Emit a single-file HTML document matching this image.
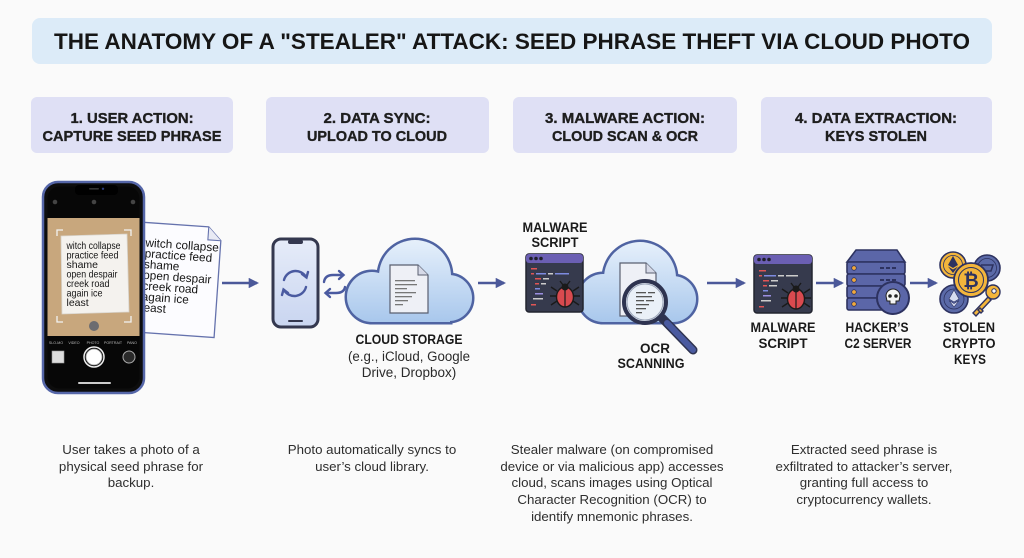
<!DOCTYPE html>
<html><head><meta charset="utf-8"><style>
html,body{margin:0;padding:0;background:#fafafa;}
svg{display:block;}
text{font-family:"Liberation Sans",Arial,sans-serif;}
</style></head><body>
<svg width="1024" height="558" viewBox="0 0 1024 558" xmlns="http://www.w3.org/2000/svg">
<defs>
<linearGradient id="cg1" x1="0" y1="240" x2="0" y2="323" gradientUnits="userSpaceOnUse">
<stop offset="0" stop-color="#e6f0fb"/><stop offset="1" stop-color="#a8c7ec"/></linearGradient>
<linearGradient id="cg2" x1="0" y1="242" x2="0" y2="323" gradientUnits="userSpaceOnUse">
<stop offset="0" stop-color="#e6f0fb"/><stop offset="1" stop-color="#a8c7ec"/></linearGradient>
<linearGradient id="pg" x1="0" y1="0" x2="0" y2="1">
<stop offset="0" stop-color="#e6ecf9"/><stop offset="1" stop-color="#c9d5f0"/></linearGradient>
<marker id="ah" viewBox="0 0 10 10" refX="8" refY="5" markerWidth="4" markerHeight="4" orient="auto">
<path d="M0,0 L10,5 L0,10 Z" fill="#4b5899"/></marker>
</defs>
<rect width="1024" height="558" fill="#fafafa"/>

<!-- Title -->
<rect x="32" y="18" width="960" height="46" rx="8" fill="#dcebf8"/>
<text x="512" y="49" text-anchor="middle" font-size="22" font-weight="bold" fill="#161616" textLength="916" lengthAdjust="spacingAndGlyphs">THE ANATOMY OF A "STEALER" ATTACK: SEED PHRASE THEFT VIA CLOUD PHOTO</text>

<!-- Step headers -->
<g font-weight="bold" font-size="15" fill="#1e1e1e" stroke="#1e1e1e" stroke-width="0.35" text-anchor="middle">
<rect x="31" y="97" width="202" height="56" rx="6" fill="#dfe0f5" stroke="none"/>
<text x="132" y="123" textLength="123" lengthAdjust="spacingAndGlyphs">1. USER ACTION:</text>
<text x="132" y="141" textLength="179" lengthAdjust="spacingAndGlyphs">CAPTURE SEED PHRASE</text>
<rect x="266" y="97" width="223" height="56" rx="6" fill="#dfe0f5" stroke="none"/>
<text x="377" y="123" textLength="107" lengthAdjust="spacingAndGlyphs">2. DATA SYNC:</text>
<text x="377" y="141" textLength="140" lengthAdjust="spacingAndGlyphs">UPLOAD TO CLOUD</text>
<rect x="513" y="97" width="224" height="56" rx="6" fill="#dfe0f5" stroke="none"/>
<text x="625" y="123" textLength="160" lengthAdjust="spacingAndGlyphs">3. MALWARE ACTION:</text>
<text x="625" y="141" textLength="146" lengthAdjust="spacingAndGlyphs">CLOUD SCAN &amp; OCR</text>
<rect x="761" y="97" width="231" height="56" rx="6" fill="#dfe0f5" stroke="none"/>
<text x="876" y="123" textLength="162" lengthAdjust="spacingAndGlyphs">4. DATA EXTRACTION:</text>
<text x="876" y="141" textLength="102" lengthAdjust="spacingAndGlyphs">KEYS STOLEN</text>
</g>

<!-- Step 1: paper note behind phone -->
<g transform="rotate(4 180 280)">
<path d="M136,225 L205,225 L218,238 L218,335 L136,335 Z" fill="#fcfcff" stroke="#6572ad" stroke-width="1.3"/>
<path d="M205,225 L205,238 L218,238" fill="#e8eaf4" stroke="#6572ad" stroke-width="1.1"/>
<g font-size="11.8" fill="#151515">
<text x="143" y="249">witch collapse</text>
<text x="143" y="259.8">practice feed</text>
<text x="143" y="270.6">shame</text>
<text x="143" y="281.4">open despair</text>
<text x="143" y="292.2">creek road</text>
<text x="143" y="303">again ice</text>
<text x="143" y="313.8">least</text>
</g>
</g>

<!-- Phone -->
<rect x="43" y="182" width="101" height="211" rx="15" fill="#0d0d0d" stroke="#5566a8" stroke-width="2.5"/>
<rect x="47.5" y="186.5" width="92" height="202" rx="12" fill="#070707"/>
<rect x="75" y="185" width="43" height="10" rx="4" fill="#000"/>
<rect x="89" y="188" width="10" height="1.6" rx="0.8" fill="#333"/>
<circle cx="103" cy="188.8" r="1.2" fill="#2a3a7a"/>
<circle cx="55" cy="202" r="2.3" fill="#444"/>
<circle cx="94" cy="202" r="2.3" fill="#444"/>
<circle cx="133" cy="202" r="2.3" fill="#444"/>
<rect x="47.5" y="218" width="92" height="118" fill="#c8a77d"/>
<g stroke="#f2f2f2" stroke-width="1.3" fill="none">
<path d="M57,236 V230 H63"/><path d="M124,230 H131 V236"/>
<path d="M57,316 V322 H63"/><path d="M124,322 H131 V316"/>
</g>
<path d="M61,236 L127,234 L129,312 L62,314 Z" fill="#f4f2ee" stroke="#d8d4cc" stroke-width="0.8"/>
<g font-size="10.5" fill="#151515">
<text x="66.5" y="249" textLength="54" lengthAdjust="spacingAndGlyphs">witch collapse</text>
<text x="66.5" y="258.5" textLength="52" lengthAdjust="spacingAndGlyphs">practice feed</text>
<text x="66.5" y="268">shame</text>
<text x="66.5" y="277.5" textLength="51" lengthAdjust="spacingAndGlyphs">open despair</text>
<text x="66.5" y="287" textLength="43" lengthAdjust="spacingAndGlyphs">creek road</text>
<text x="66.5" y="296.5" textLength="36" lengthAdjust="spacingAndGlyphs">again ice</text>
<text x="66.5" y="306">least</text>
</g>
<circle cx="94" cy="326" r="5" fill="#6c6c70"/>
<g font-size="3.6" fill="#bbb" text-anchor="middle">
<text x="56" y="344">SLO-MO</text><text x="74" y="344">VIDEO</text><text x="93" y="344">PHOTO</text><text x="113" y="344">PORTRAIT</text><text x="132" y="344">PANO</text>
</g>
<rect x="52" y="351" width="12" height="12" fill="#ddd" stroke="#999" stroke-width="0.6"/>
<circle cx="94" cy="357" r="10" fill="none" stroke="#eee" stroke-width="1.5"/>
<circle cx="94" cy="357" r="8" fill="#fff" stroke="#999" stroke-width="0.8"/>
<circle cx="129" cy="357" r="6" fill="#2a2a2a" stroke="#aaa" stroke-width="1"/>
<rect x="78" y="382" width="33" height="2" rx="1" fill="#ccc"/>

<!-- Arrows -->
<g stroke="#4b5899" stroke-width="2.6" fill="none" marker-end="url(#ah)">
<line x1="222" y1="283" x2="257" y2="283"/>
<line x1="478" y1="283" x2="504" y2="283"/>
<line x1="589" y1="282" x2="613" y2="282"/>
<line x1="707" y1="283" x2="744" y2="283"/>
<line x1="816" y1="283" x2="842" y2="283"/>
<line x1="910" y1="283" x2="936" y2="283"/>
</g>

<!-- Step 2: small phone -->
<rect x="273" y="239" width="45" height="88" rx="8" fill="url(#pg)" stroke="#34384f" stroke-width="3"/>
<rect x="288" y="240" width="15" height="4" rx="2" fill="#34384f"/>
<rect x="288" y="320" width="15" height="2" rx="1" fill="#34384f"/>
<g stroke="#4a5aa0" stroke-width="2.4" fill="none" stroke-linecap="round">
<path d="M284,280 A12,12 0 0 1 306,277"/>
<path d="M302,274 L306.5,277.5 L308,272"/>
<path d="M306,287 A12,12 0 0 1 284,290"/>
<path d="M288,293 L283.5,289.5 L282,295"/>
<path d="M324,282 Q325,275 333,275 L343,275"/>
<path d="M339,271 L343.5,275 L339,279"/>
<path d="M345,287 Q344,293 336,293 L326,293"/>
<path d="M330,289 L325.5,293 L330,297"/>
</g>

<!-- Cloud 1 -->
<g stroke="#4f63a2" stroke-width="5">
<circle cx="372" cy="297" r="25"/><circle cx="415" cy="276" r="36"/><circle cx="449" cy="298" r="23"/>
<rect x="372" y="292" width="78" height="30"/>
</g>
<g fill="url(#cg1)">
<circle cx="372" cy="297" r="25"/><circle cx="415" cy="276" r="36"/><circle cx="449" cy="298" r="23"/>
<rect x="372" y="292" width="78" height="30"/>
</g>
<path d="M390,265 L418,265 L428,275 L428,313 L390,313 Z" fill="#eef0f6" stroke="#5a5f70" stroke-width="1.2"/>
<path d="M418,265 L418,275 L428,275" fill="#d6dae8" stroke="#5a5f70" stroke-width="1"/>
<g fill="#777">
<rect x="395" y="280" width="20" height="1.3"/><rect x="395" y="284" width="22" height="1.3"/><rect x="395" y="288" width="12" height="1.3"/>
<rect x="395" y="292" width="21" height="1.3"/><rect x="395" y="296" width="17" height="1.3"/><rect x="395" y="300" width="13" height="1.3"/><rect x="395" y="304" width="8" height="1.3"/>
</g>
<text x="409" y="344" text-anchor="middle" font-size="13.5" font-weight="bold" fill="#1a1a1a" textLength="107" lengthAdjust="spacingAndGlyphs">CLOUD STORAGE</text>
<text x="409" y="361" text-anchor="middle" font-size="13.5" fill="#2a2a2a" textLength="122" lengthAdjust="spacingAndGlyphs">(e.g., iCloud, Google</text>
<text x="409" y="377" text-anchor="middle" font-size="13.5" fill="#2a2a2a">Drive, Dropbox)</text>

<!-- Step 3: cloud 2 -->
<g stroke="#4f63a2" stroke-width="5">
<circle cx="603" cy="298" r="24"/><circle cx="640" cy="278" r="36"/><circle cx="673" cy="299" r="23"/>
<rect x="603" y="292" width="70" height="30"/>
</g>
<g fill="url(#cg2)">
<circle cx="603" cy="298" r="24"/><circle cx="640" cy="278" r="36"/><circle cx="673" cy="299" r="23"/>
<rect x="603" y="292" width="70" height="30"/>
</g>
<path d="M620,263 L646,263 L656,273 L656,316 L620,316 Z" fill="#eef0f6" stroke="#5a5f70" stroke-width="1.2"/>
<path d="M646,263 L646,273 L656,273" fill="#d6dae8" stroke="#5a5f70" stroke-width="1"/>
<line x1="662" y1="318" x2="693" y2="350" stroke="#2e3350" stroke-width="9" stroke-linecap="round"/>
<line x1="667" y1="323" x2="693" y2="350" stroke="#4a5aa0" stroke-width="6" stroke-linecap="round"/>
<circle cx="645" cy="302" r="21" fill="#eaf0f8" stroke="#2e3350" stroke-width="4"/>
<circle cx="645" cy="302" r="18" fill="none" stroke="#9aa4b8" stroke-width="1"/>
<g fill="#555">
<rect x="636" y="292" width="10" height="1.3"/><rect x="648" y="292" width="7" height="1.3"/>
<rect x="636" y="296" width="16" height="1.3"/><rect x="636" y="300" width="8" height="1.3"/><rect x="646" y="300" width="8" height="1.3"/>
<rect x="636" y="304" width="13" height="1.3"/><rect x="636" y="308" width="10" height="1.3"/><rect x="636" y="312" width="6" height="1.3"/>
</g>
<!-- Malware window 1 -->
<rect x="526" y="254" width="57" height="58" rx="3" fill="#363a4d" stroke="#22242f" stroke-width="1.5"/>
<rect x="526" y="254" width="57" height="9" rx="3" fill="#6b5fb3"/>
<g fill="#1f1f2a"><circle cx="531" cy="258.5" r="1.8"/><circle cx="536" cy="258.5" r="1.8"/><circle cx="541" cy="258.5" r="1.8"/></g>
<g>
<rect x="531" y="268" width="6" height="1.5" fill="#e05555"/>
<rect x="531" y="273" width="3" height="1.5" fill="#e05555"/><rect x="536" y="273" width="10" height="1.5" fill="#7d8be0"/><rect x="548" y="273" width="5" height="1.5" fill="#ccc"/><rect x="555" y="273" width="14" height="1.5" fill="#7d8be0"/>
<rect x="535" y="278" width="6" height="1.5" fill="#e05555"/><rect x="543" y="278" width="6" height="1.5" fill="#ccc"/>
<rect x="535" y="283" width="4" height="1.5" fill="#e05555"/><rect x="541" y="283" width="5" height="1.5" fill="#ccc"/>
<rect x="535" y="288" width="5" height="1.5" fill="#7d8be0"/>
<rect x="535" y="293" width="8" height="1.5" fill="#9b8fe0"/>
<rect x="533" y="298" width="10" height="1.5" fill="#ccc"/>
<rect x="531" y="304" width="5" height="1.5" fill="#e05555"/>
</g>
<g stroke="#1a1a1a" stroke-width="1.4" fill="none">
<path d="M557,291 L551,287 M557,296 L550,296 M557,301 L551,305 M573,291 L579,287 M573,296 L580,296 M573,301 L579,305 M563,285 L560,281 M567,285 L570,281"/>
</g>
<ellipse cx="565" cy="297" rx="8.5" ry="10" fill="#d94a4f" stroke="#1a1a1a" stroke-width="1.4"/>
<line x1="565" y1="289" x2="565" y2="307" stroke="#1a1a1a" stroke-width="1.2"/>
<circle cx="565" cy="287" r="3.5" fill="#1a1a1a"/>
<g text-anchor="middle" font-size="13.5" font-weight="bold" fill="#1a1a1a">
<text x="555" y="232" textLength="65" lengthAdjust="spacingAndGlyphs">MALWARE</text>
<text x="555" y="247" textLength="47" lengthAdjust="spacingAndGlyphs">SCRIPT</text>
<text x="655" y="353">OCR</text>
<text x="651" y="368" textLength="67" lengthAdjust="spacingAndGlyphs">SCANNING</text>
</g>

<!-- Step 4: malware window 2 -->
<rect x="754" y="255" width="58" height="58" rx="3" fill="#363a4d" stroke="#22242f" stroke-width="1.5"/>
<rect x="754" y="255" width="58" height="9" rx="3" fill="#6b5fb3"/>
<g fill="#1f1f2a"><circle cx="759" cy="259.5" r="1.8"/><circle cx="764" cy="259.5" r="1.8"/><circle cx="769" cy="259.5" r="1.8"/></g>
<g>
<rect x="759" y="270" width="7" height="1.5" fill="#e05555"/>
<rect x="759" y="275" width="3" height="1.5" fill="#e05555"/><rect x="764" y="275" width="12" height="1.5" fill="#7d8be0"/><rect x="778" y="275" width="6" height="1.5" fill="#ccc"/><rect x="786" y="275" width="12" height="1.5" fill="#ccc"/>
<rect x="763" y="280" width="6" height="1.5" fill="#e05555"/><rect x="771" y="280" width="7" height="1.5" fill="#ccc"/>
<rect x="763" y="285" width="4" height="1.5" fill="#e05555"/><rect x="769" y="285" width="8" height="1.5" fill="#ccc"/>
<rect x="763" y="290" width="5" height="1.5" fill="#7d8be0"/>
<rect x="763" y="295" width="8" height="1.5" fill="#9b8fe0"/>
<rect x="761" y="300" width="10" height="1.5" fill="#ccc"/>
<rect x="759" y="306" width="5" height="1.5" fill="#e05555"/>
</g>
<g stroke="#1a1a1a" stroke-width="1.4" fill="none">
<path d="M788,293 L782,289 M788,298 L781,298 M788,303 L782,307 M804,293 L810,289 M804,298 L811,298 M804,303 L810,307 M794,287 L791,283 M798,287 L801,283"/>
</g>
<ellipse cx="796" cy="299" rx="8.5" ry="10" fill="#d94a4f" stroke="#1a1a1a" stroke-width="1.4"/>
<line x1="796" y1="291" x2="796" y2="309" stroke="#1a1a1a" stroke-width="1.2"/>
<circle cx="796" cy="289" r="3.5" fill="#1a1a1a"/>

<!-- Server -->
<g stroke="#2d3260" stroke-width="1.6">
<path d="M856,250 L897,250 L905,262 L847,262 Z" fill="#5b66a8"/>
<rect x="847" y="262" width="58" height="12" rx="2" fill="#5b66a8"/>
<rect x="847" y="274" width="58" height="12" rx="2" fill="#5b66a8"/>
<rect x="847" y="286" width="58" height="12" rx="2" fill="#5b66a8"/>
<rect x="847" y="298" width="58" height="12" rx="2" fill="#5b66a8"/>
</g>
<g fill="#f2a93b" stroke="#2d3260" stroke-width="0.8">
<circle cx="854" cy="268" r="2.3"/><circle cx="854" cy="280" r="2.3"/><circle cx="854" cy="292" r="2.3"/><circle cx="854" cy="304" r="2.3"/>
</g>
<g fill="#2d3260">
<rect x="880" y="267" width="4" height="2"/><rect x="886" y="267" width="4" height="2"/><rect x="892" y="267" width="4" height="2"/>
<rect x="880" y="279" width="4" height="2"/><rect x="886" y="279" width="4" height="2"/><rect x="892" y="279" width="4" height="2"/>
</g>
<circle cx="893" cy="298" r="16" fill="#5b66a8" stroke="#2d3260" stroke-width="2"/>
<path d="M886,296 A7,7 0 1 1 900,296 L899,301 L896,301 L896,304 L890,304 L890,301 L887,301 Z" fill="#f4f4f4" stroke="#222" stroke-width="1"/>
<circle cx="890" cy="296" r="1.8" fill="#222"/><circle cx="896" cy="296" r="1.8" fill="#222"/>
<g text-anchor="middle" font-size="13.5" font-weight="bold" fill="#1a1a1a">
<text x="783" y="332" textLength="65" lengthAdjust="spacingAndGlyphs">MALWARE</text>
<text x="783" y="348" textLength="49" lengthAdjust="spacingAndGlyphs">SCRIPT</text>
<text x="877" y="332" textLength="63" lengthAdjust="spacingAndGlyphs">HACKER’S</text>
<text x="878" y="348" textLength="67" lengthAdjust="spacingAndGlyphs">C2 SERVER</text>
<text x="969" y="332" textLength="52" lengthAdjust="spacingAndGlyphs">STOLEN</text>
<text x="969" y="348" textLength="53" lengthAdjust="spacingAndGlyphs">CRYPTO</text>
<text x="970" y="364" textLength="32" lengthAdjust="spacingAndGlyphs">KEYS</text>
</g>

<!-- Coins -->
<g stroke="#2d3260" stroke-width="1.6">
<circle cx="987" cy="268" r="13" fill="#5b6aa8"/>
<circle cx="953" cy="265" r="13" fill="#f3b53b"/>
<circle cx="954" cy="299" r="14" fill="#5b6aa8"/>
</g>
<circle cx="987" cy="268" r="9.5" fill="none" stroke="#2d3260" stroke-width="0.8"/>
<path d="M981,265 H993 L991,271 H980" fill="none" stroke="#2d3260" stroke-width="1.5"/>
<circle cx="953" cy="265" r="9.5" fill="none" stroke="#2d3260" stroke-width="0.8"/>
<path d="M953,256 L958,265 L953,268 L948,265 Z M948,266.5 L953,273 L958,266.5 L953,269.5 Z" fill="#2d3260"/>
<circle cx="954" cy="299" r="10" fill="none" stroke="#2d3260" stroke-width="0.8"/>
<path d="M954,290 L959,299 L954,302 L949,299 Z M949,300.5 L954,307 L959,300.5 L954,303.5 Z" fill="#d7dcf0" stroke="#2d3260" stroke-width="0.6"/>
<circle cx="971" cy="280" r="17" fill="#f3b53b" stroke="#2d3260" stroke-width="1.8"/>
<circle cx="971" cy="280" r="12.5" fill="none" stroke="#2d3260" stroke-width="1"/>
<text x="971" y="287" text-anchor="middle" font-size="19" font-weight="bold" fill="#2d3260">₿</text>
<!-- key -->
<g stroke="#2d3260" stroke-width="1.4" fill="#f3b53b">
<path d="M973,313 L988,297 L991,300 L976,316 Z"/>
<path d="M978,310 L981,313 L983,311 L980,308 Z"/>
<circle cx="993" cy="292" r="7"/>
</g>
<circle cx="994" cy="291" r="2.2" fill="#fafafa" stroke="#2d3260" stroke-width="1"/>

<!-- Descriptions -->
<g text-anchor="middle" font-size="13.3" fill="#2e2e2e">
<text x="131" y="454">User takes a photo of a</text>
<text x="131" y="471">physical seed phrase for</text>
<text x="131" y="487">backup.</text>
<text x="372" y="454">Photo automatically syncs to</text>
<text x="372" y="471">user’s cloud library.</text>
<text x="612" y="454">Stealer malware (on compromised</text>
<text x="612" y="471">device or via malicious app) accesses</text>
<text x="612" y="487">cloud, scans images using Optical</text>
<text x="612" y="504">Character Recognition (OCR) to</text>
<text x="612" y="521">identify mnemonic phrases.</text>
<text x="864" y="454">Extracted seed phrase is</text>
<text x="864" y="471">exfiltrated to attacker’s server,</text>
<text x="864" y="487">granting full access to</text>
<text x="864" y="504">cryptocurrency wallets.</text>
</g>
</svg>
</body></html>
